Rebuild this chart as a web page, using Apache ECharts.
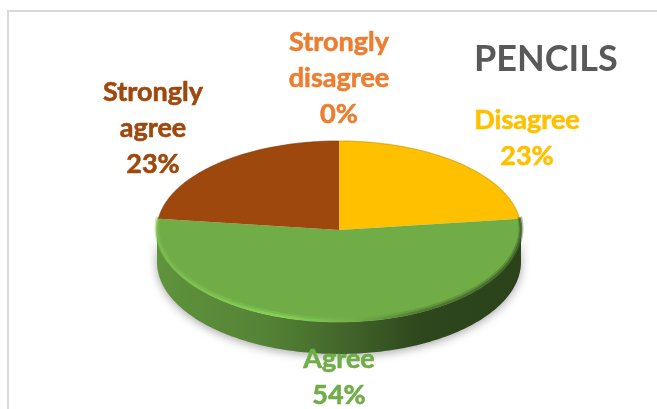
<!DOCTYPE html>
<html>
<head>
<meta charset="utf-8">
<style>
  html, body { margin: 0; padding: 0; background: #fff; }
  #chart { width: 657px; height: 409px; }
</style>
<script src="https://cdn.jsdelivr.net/npm/echarts@6/dist/echarts.min.js"></script>
</head>
<body>
<div id="chart"></div>
<script>
const categories = ['Strongly disagree', 'Disagree', 'Agree', 'Strongly agree']
const percents = [0, 23, 54, 23]
const colors = ['#ED7D31', '#FFC000', '#70AD47', '#9E480E']

// tilted pie: the front half is a little taller than the back half (perspective)
const cx = 339, cy = 230, rx = 182, ryBack = 89, ryFront = 92, depth = 32
const font = 'Lato, Carlito, sans-serif'
const labelSpots = { 'Strongly disagree': [339, 78], 'Disagree': [527, 138], 'Agree': [339, 377], 'Strongly agree': [153, 128] }

const total = percents.reduce((a, b) => a + b, 0)
const rad = d => d * Math.PI / 180
const point = (deg, dy = 0) => {
  const c = Math.cos(rad(deg))
  return [cx + rx * Math.sin(rad(deg)), cy - c * (c > 0 ? ryBack : ryFront) + dy]
}
const arc = (from, to, dy = 0) => {
  const pts = []
  for (let d = from; d < to; d += 1) pts.push(point(d, dy))
  pts.push(point(to, dy))
  return pts
}
const sliceAngles = i => {
  const before = percents.slice(0, i).reduce((a, b) => a + b, 0)
  return [before / total * 360, (before + percents[i]) / total * 360]
}
// k below 1 darkens, above 1 brightens
const shade = (hex, k) => {
  const n = parseInt(hex.slice(1), 16)
  const ch = [n >> 16 & 255, n >> 8 & 255, n & 255].map(v => Math.min(255, Math.round(v * k)))
  return 'rgb(' + ch.join(',') + ')'
}
const horizontal = stops => new echarts.graphic.LinearGradient(0, 0, 1, 0, stops.map(s => ({ offset: s[0], color: s[1] })))

function renderWall(params, api) {
  const i = api.value(2)
  const [a, b] = sliceAngles(i)
  const from = Math.max(a, 90), to = Math.min(b, 270)
  if (percents[i] === 0 || from >= to) return { type: 'group', children: [] }
  const c = colors[i]
  return {
    type: 'polygon',
    shape: { points: arc(from, to).concat(arc(from, to, depth).reverse()) },
    style: {
      fill: horizontal([[0, shade(c, 0.85)], [0.3, shade(c, 0.76)], [0.55, shade(c, 0.56)], [0.72, shade(c, 0.41)], [1, shade(c, 0.38)]]),
      shadowBlur: 10,
      shadowOffsetY: 2,
      shadowColor: 'rgba(0,0,0,0.35)'
    }
  }
}

function renderTop(params, api) {
  const i = api.value(2)
  const [a, b] = sliceAngles(i)
  const c = colors[i]
  const children = []
  if (percents[i] > 0) {
    children.push({
      type: 'polygon',
      shape: { points: [[cx, cy]].concat(arc(a, b)) },
      style: { fill: c }
    })
    // soft bevel round the outer edge, light on the left and dark on the right
    const bevel = horizontal([[0, shade(c, 1.1)], [0.35, shade(c, 1.25)], [0.55, c], [0.72, shade(c, 0.65)], [1, shade(c, 0.5)]])
    const backEdge = Math.cos(rad((a + b) / 2)) > 0
    if (backEdge) {
      children.push({
        type: 'polyline',
        shape: { points: arc(a, b) },
        style: { fill: null, lineWidth: 1.2, opacity: 0.6, stroke: shade(c, 0.8) }
      })
    } else {
      children.push({
        type: 'polyline',
        shape: { points: arc(a, b, -2) },
        style: { fill: null, lineWidth: 5, opacity: 0.35, stroke: bevel }
      })
      children.push({
        type: 'polyline',
        shape: { points: arc(a, b, -1) },
        style: { fill: null, lineWidth: 2.5, opacity: 0.7, stroke: bevel }
      })
    }
  }
  const [lx, ly] = labelSpots[categories[i]]
  children.push({
    type: 'text',
    x: lx,
    y: ly,
    style: {
      text: categories[i].replace(' ', '\n') + '\n' + api.value(1) + '%',
      fill: c,
      stroke: c,
      lineWidth: 0.6,
      fontFamily: font,
      fontWeight: 'bold',
      fontSize: 27,
      lineHeight: 36,
      align: 'center',
      verticalAlign: 'middle'
    }
  })
  return { type: 'group', children }
}

const seriesData = categories.map((name, i) => [name, percents[i], i])
const chart = echarts.init(document.getElementById('chart'))
chart.setOption({
  animation: false,
  title: {
    text: 'PENCILS',
    left: 469,
    top: 36,
    textStyle: { fontFamily: font, fontWeight: 'bold', fontSize: 36, color: '#595959' }
  },
  graphic: [{
    type: 'rect',
    silent: true,
    z: -1,
    shape: { x: 8, y: 11, width: 700, height: 450 },
    style: { fill: '#fff', stroke: '#d9d9d9', lineWidth: 2 }
  }],
  series: [
    { type: 'custom', coordinateSystem: 'none', z: 1, renderItem: renderWall, data: seriesData },
    { type: 'custom', coordinateSystem: 'none', z: 2, renderItem: renderTop, data: seriesData }
  ]
})
</script>
</body>
</html>
